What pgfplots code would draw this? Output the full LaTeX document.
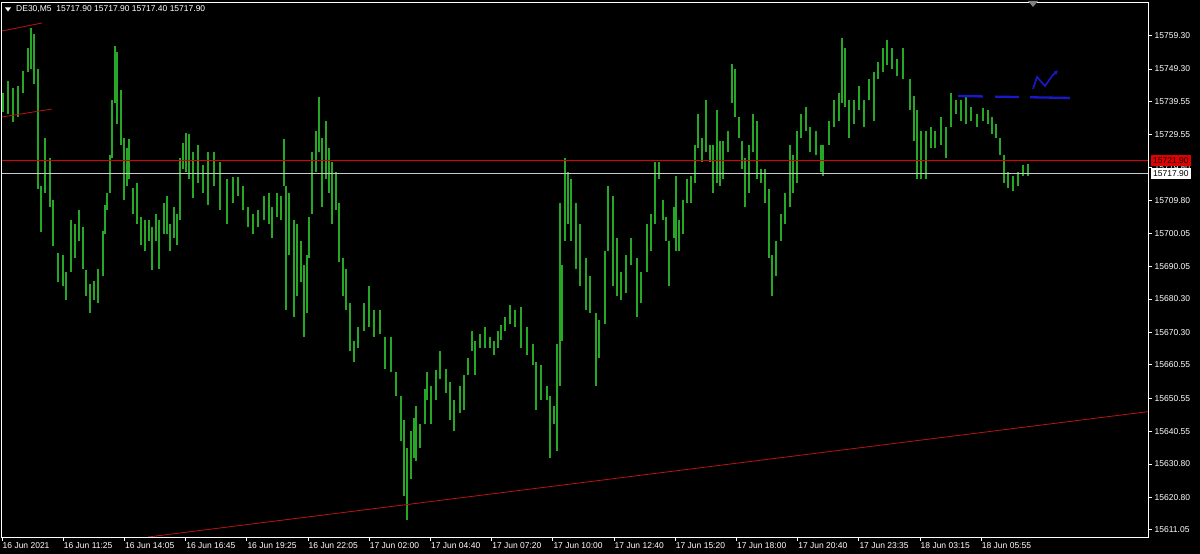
\documentclass[border=0pt]{standalone}
\usepackage{fontspec}
\setmainfont{Liberation Sans}
\usepackage{pgfplots}
\usepackage{pgfplotstable}
\pgfplotsset{compat=1.18}
\usetikzlibrary{arrows.meta}
\definecolor{barg}{RGB}{38,168,38}
\definecolor{hred}{RGB}{225,0,0}
\definecolor{tred}{RGB}{185,20,20}
\definecolor{dblue}{RGB}{25,25,200}
\definecolor{lgray}{RGB}{200,200,200}

% DE30 M5 bars: x position, high, low
\pgfplotstableread{
x hi lo
3 15742.1 15736.4
8 15745.7 15735.8
13 15743.6 15733.4
18 15744.2 15734.9
23 15748.7 15742.1
28 15755.6 15748.4
31 15761.6 15749.3
34 15759.8 15744.8
38 15749.3 15713.3
41 15714.2 15700.4
45 15728.6 15712.1
50 15722.6 15707.9
53 15710.0 15696.2
58 15694.1 15685.4
63 15693.5 15684.2
66 15688.4 15680.0
71 15704.0 15688.4
75 15702.8 15692.6
79 15707.0 15697.7
83 15701.9 15689.3
86 15689.0 15681.2
90 15684.8 15676.1
94 15685.7 15680.0
98 15689.3 15679.1
103 15700.7 15687.2
105 15708.5 15699.8
107 15712.1 15707.0
110 15723.5 15712.1
112 15740.0 15722.6
115 15756.2 15739.1
117 15754.4 15732.8
121 15743.0 15726.5
124 15728.6 15710.0
127 15725.6 15714.2
129 15728.3 15716.3
133 15713.6 15705.8
137 15715.1 15702.8
141 15704.9 15696.5
145 15704.0 15694.7
149 15704.0 15697.7
152 15701.9 15689.0
156 15705.8 15697.7
159 15704.0 15689.3
164 15709.1 15699.8
167 15711.2 15699.8
170 15702.8 15694.7
174 15707.9 15698.6
177 15705.8 15696.5
180 15722.6 15704.0
183 15727.1 15719.3
186 15730.1 15718.4
189 15729.8 15716.3
193 15724.4 15710.6
198 15726.5 15715.1
203 15720.5 15712.1
208 15724.4 15708.5
214 15724.4 15714.2
220 15721.4 15707.0
227 15716.3 15702.8
233 15716.9 15709.1
238 15716.9 15711.2
243 15714.2 15707.0
248 15707.9 15701.9
253 15705.8 15699.8
258 15707.0 15701.9
264 15711.2 15704.0
269 15712.1 15702.8
272 15707.9 15698.6
277 15712.1 15704.9
281 15711.2 15704.0
284 15728.3 15714.2
286 15714.2 15677.0
289 15712.1 15693.5
294 15704.0 15674.9
297 15702.8 15681.2
301 15697.7 15685.4
304 15690.5 15668.9
307 15693.5 15676.1
309 15704.9 15692.6
312 15724.4 15705.8
316 15730.7 15718.4
319 15740.9 15724.4
322 15728.6 15707.9
326 15733.7 15716.3
329 15725.6 15712.1
332 15721.4 15702.8
336 15718.4 15707.0
339 15709.1 15691.4
343 15692.6 15681.2
346 15689.3 15677.0
350 15679.1 15664.7
354 15667.7 15661.4
358 15671.9 15665.6
364 15679.1 15670.7
369 15684.2 15671.9
374 15677.0 15668.9
380 15677.0 15669.8
385 15668.9 15659.3
391 15668.9 15658.4
396 15658.4 15651.2
401 15651.2 15637.7
404 15644.0 15621.2
407 15635.6 15614.0
411 15640.7 15626.3
414 15644.6 15632.6
416 15648.2 15631.7
420 15642.8 15635.6
425 15653.3 15642.8
427 15658.4 15650.0
431 15654.2 15642.8
436 15659.0 15650.0
440 15664.7 15656.3
446 15659.3 15652.1
450 15655.4 15644.0
454 15650.0 15640.7
460 15654.2 15646.1
464 15657.5 15647.0
468 15662.6 15657.5
472 15670.7 15664.7
475 15667.7 15657.5
480 15669.8 15665.6
485 15671.9 15665.6
490 15668.9 15665.6
494 15667.7 15663.5
498 15670.7 15665.6
501 15672.5 15668.0
505 15674.9 15670.7
510 15678.5 15672.8
515 15677.0 15671.9
521 15677.9 15665.6
527 15671.9 15663.5
533 15666.8 15660.5
536 15661.4 15647.0
541 15660.5 15650.0
547 15654.2 15650.0
550 15651.2 15632.6
554 15648.2 15642.8
557 15666.8 15634.7
560 15709.1 15654.2
562 15690.5 15667.7
565 15722.6 15697.7
568 15718.4 15702.8
571 15716.3 15697.7
576 15709.1 15689.3
580 15702.8 15684.2
586 15692.6 15677.0
590 15687.2 15676.1
596 15676.1 15654.2
599 15674.0 15662.6
605 15694.7 15672.8
608 15714.2 15694.7
613 15711.2 15684.2
617 15698.6 15681.2
621 15688.4 15680.0
626 15693.5 15682.1
631 15698.6 15690.5
637 15692.6 15674.9
641 15688.4 15679.1
647 15702.8 15688.4
651 15705.8 15694.7
655 15721.4 15702.8
659 15721.4 15716.3
663 15710.0 15704.0
666 15704.9 15697.7
669 15697.7 15684.2
674 15707.9 15698.6
676 15717.2 15694.7
679 15704.0 15694.7
683 15710.0 15699.8
687 15716.3 15709.1
691 15717.2 15709.1
695 15726.5 15715.1
698 15735.8 15725.6
702 15728.6 15721.4
706 15740.0 15724.4
710 15726.5 15721.4
713 15726.5 15712.1
717 15737.0 15715.1
720 15727.7 15714.2
723 15727.7 15716.3
728 15730.7 15724.4
732 15750.8 15739.1
735 15749.3 15734.9
739 15734.9 15728.6
742 15727.7 15719.3
745 15722.6 15707.9
749 15726.5 15712.1
753 15735.8 15724.4
757 15733.7 15716.3
761 15719.3 15715.1
765 15719.3 15709.1
769 15713.3 15692.6
772 15693.5 15681.2
776 15697.7 15687.2
781 15705.8 15697.7
785 15712.1 15702.8
790 15726.5 15707.9
793 15723.5 15712.1
797 15730.7 15715.1
801 15735.8 15728.6
806 15737.9 15730.7
810 15731.9 15724.4
816 15730.7 15723.5
821 15726.5 15718.4
823 15726.5 15717.2
829 15733.7 15726.5
834 15740.0 15731.9
839 15742.1 15733.7
842 15758.6 15739.1
845 15755.6 15737.9
849 15740.0 15728.6
854 15740.0 15732.8
859 15744.2 15737.0
864 15740.0 15731.9
869 15746.3 15740.0
874 15748.4 15733.7
878 15751.4 15746.3
883 15755.6 15748.4
887 15758.0 15750.5
892 15755.6 15749.3
897 15752.3 15747.2
903 15755.6 15746.3
910 15746.3 15737.0
914 15741.2 15727.7
917 15737.0 15716.3
921 15730.7 15716.3
926 15730.7 15716.3
931 15731.9 15725.6
935 15730.7 15725.6
941 15734.9 15726.5
946 15731.9 15722.6
951 15742.1 15731.9
956 15740.0 15735.8
961 15740.0 15733.7
966 15741.2 15732.8
971 15737.9 15733.7
977 15735.8 15731.9
983 15737.6 15733.7
988 15737.0 15732.8
992 15734.9 15729.8
996 15732.8 15728.6
1000 15728.6 15723.5
1004 15723.5 15715.1
1008 15718.4 15713.6
1013 15717.2 15712.7
1018 15718.4 15714.2
1023 15720.5 15717.2
1028 15720.8 15717.2
}\bars

\begin{document}
\begin{tikzpicture}
\useasboundingbox (0,0) rectangle (1200bp,554bp);
\fill[black] (0,0) rectangle (1200bp,554bp);
\begin{axis}[
  at={(1.5bp,17bp)}, anchor=south west,
  scale only axis, width=1146.5bp, height=535bp,
  xmin=1.5, xmax=1148, ymin=15608.9, ymax=15769.4,
  scaled x ticks=false, scaled y ticks=false,
  axis background/.style={fill=black},
  axis line style={white, line width=0.9bp},
  tick align=outside, major tick length=4bp,
  major tick style={white, line width=0.8bp},
  xtick pos=bottom, ytick pos=right, yticklabel pos=right,
  xtick={2,63.2,124.4,185.6,246.8,308,369.2,430.4,491.6,552.8,614,675.2,736.4,797.6,858.8,920,981.2},
  xticklabels={16 Jun 2021,16 Jun 11:25,16 Jun 14:05,16 Jun 16:45,16 Jun 19:25,16 Jun 22:05,17 Jun 02:00,17 Jun 04:40,17 Jun 07:20,17 Jun 10:00,17 Jun 12:40,17 Jun 15:20,17 Jun 18:00,17 Jun 20:40,17 Jun 23:35,18 Jun 03:15,18 Jun 05:55},
  ytick={15611.05,15620.80,15630.80,15640.55,15650.55,15660.55,15670.30,15680.30,15690.05,15700.05,15709.80,15719.80,15729.55,15739.55,15749.30,15759.30},
  yticklabels={15611.05,15620.80,15630.80,15640.55,15650.55,15660.55,15670.30,15680.30,15690.05,15700.05,15709.80,15719.80,15729.55,15739.55,15749.30,15759.30},
  xticklabel style={font=\fontsize{8.5bp}{10bp}\selectfont, text=white, anchor=north west, inner sep=0pt, xshift=0.5bp, yshift=-1bp},
  yticklabel style={font=\fontsize{8.5bp}{10bp}\selectfont, text=white, anchor=west, inner sep=0pt, xshift=2.5bp},
]
\addplot[draw=none, mark=none, forget plot,
  error bars/.cd, y dir=minus, y explicit, error mark=none,
  error bar style={draw=barg, solid, line width=2bp}]
  table[x=x, y=hi, y error minus expr=\thisrow{hi}-\thisrow{lo}] {\bars};
\addplot[tred, line width=0.8bp] coordinates {(2,15760.7) (42,15763.1)};
\addplot[tred, line width=0.8bp] coordinates {(2,15734.9) (52,15737.3)};
\addplot[tred, line width=0.8bp] coordinates {(148,15608.9) (1148,15646.5)};
\addplot[hred, line width=0.8bp] coordinates {(1.5,15721.9) (1148,15721.9)};
\addplot[lgray, line width=0.8bp] coordinates {(1.5,15717.9) (1148,15717.9)};
\addplot[dblue, line width=2.3bp, dash pattern=on 25bp off 12bp on 24bp off 11bp on 40bp off 10bp] coordinates {(958,15741.2) (1072,15740.6)};
\addplot[dblue, line width=1.7bp, -{Stealth[length=5bp,width=4.5bp]}] coordinates {(1033,15743.3) (1037,15746.9) (1045,15744.2) (1052,15747.2) (1058,15748.9)};
\end{axis}
% price labels on the right axis
\node[fill=hred, text=black, inner xsep=2bp, inner ysep=0pt, minimum height=11bp, anchor=west,
  font=\fontsize{8.5bp}{10bp}\selectfont] at (1151bp,393.7bp) {15721.90};
\node[fill=white, text=black, inner xsep=2bp, inner ysep=0pt, minimum height=11bp, anchor=west,
  font=\fontsize{8.5bp}{10bp}\selectfont] at (1151bp,380.3bp) {15717.90};
% header
\fill[white] (5bp,546.5bp) -- (11bp,546.5bp) -- (8bp,542.5bp) -- cycle;
\node[anchor=west, inner sep=0pt, text=white, font=\fontsize{8.5bp}{10bp}\selectfont] at (16bp,544.5bp) {DE30,M5\ \ 15717.90\ 15717.90\ 15717.40\ 15717.90};
\fill[gray] (1028bp,553bp) -- (1038bp,553bp) -- (1033bp,547bp) -- cycle;
\end{tikzpicture}
\end{document}
